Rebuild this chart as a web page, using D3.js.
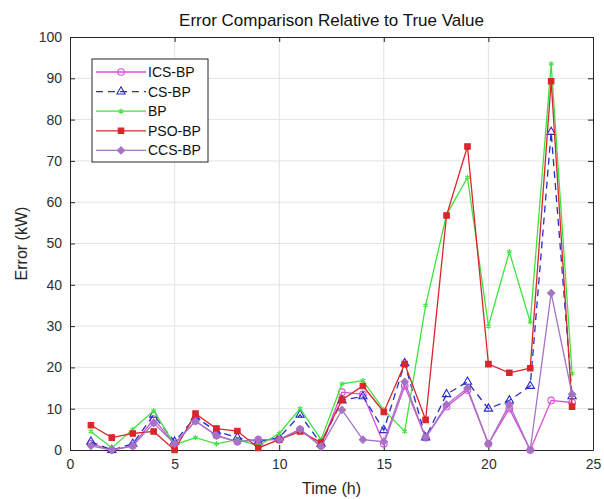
<!DOCTYPE html>
<html>
<head>
<meta charset="utf-8">
<script src="https://cdn.jsdelivr.net/npm/d3@7"></script>
<style>
  body { margin: 0; background: #fff; }
  svg { font-family: "Liberation Sans", Arial, sans-serif; }
  .grid line { stroke: #e3e3e3; stroke-width: 1; }
  .tick text { fill: #303030; font-size: 14px; }
</style>
</head>
<body>
<svg id="chart"></svg>
<script>
// ---------------------------
// Error comparison line chart
// ---------------------------
(function(){

const hours = d3.range(1, 25);

const icsBP = [1.5, 0, 1, 7.5, 1.5, 7, 3.5, 2, 2.5, 2.5, 5, 1, 14, 13.5, 1.5, 15.5, 3, 10.5, 14.5, 1.5, 10, 0, 12, 11.5];
const csBP  = [2, 0, 1.5, 8.5, 2, 8, 4.5, 3, 2, 3, 8.5, 1.5, 12, 13, 4.8, 21, 3, 13.5, 16.5, 10, 12, 15.5, 77, 13];
const bp    = [4.5, 0.5, 5, 9.5, 1.3, 3, 1.5, 2.5, 1, 4, 10, 2.5, 16, 16.8, 9.7, 4.5, 35, 57, 66, 30, 48, 31, 93.5, 18.5];
const psoBP = [6, 3, 4, 4.5, 0, 8.8, 5.2, 4.6, 0.5, 2.5, 4.5, 1.8, 12.2, 15.5, 9.2, 20.8, 7.3, 56.8, 73.5, 20.8, 18.7, 19.8, 89.3, 10.5];
const ccsBP = [1, 0, 1, 6.5, 1.5, 7, 3.5, 2, 2.5, 2.5, 5, 0.8, 9.7, 2.5, 2, 16.5, 3, 11, 15, 1.5, 11, 0, 38, 13.5];

const xTicks = [0, 5, 10, 15, 20, 25];
const yTicks = d3.range(0, 101, 10);

const series = [
  { name: "ICS-BP", values: icsBP, color: "#d94fd9", marker: "circle",   dash: null },
  { name: "CS-BP",  values: csBP,  color: "#2b2bc8", marker: "triangle", dash: "7,5" },
  { name: "BP",     values: bp,    color: "#3fe33f", marker: "star",     dash: null },
  { name: "PSO-BP", values: psoBP, color: "#d8262b", marker: "square",   dash: null },
  { name: "CCS-BP", values: ccsBP, color: "#a673c4", marker: "diamond",  dash: null }
];

const width = 604, height = 499;
const margin = { top: 37, right: 11, bottom: 49, left: 70 };

const svg = d3.select("#chart").attr("width", width).attr("height", height);

const x = d3.scaleLinear().domain([0, 25]).range([margin.left, width - margin.right]);
const y = d3.scaleLinear().domain([0, 100]).range([height - margin.bottom, margin.top]);

// grid
svg.append("g").attr("class", "grid")
  .selectAll("line.v").data(xTicks.slice(1, -1)).enter().append("line")
  .attr("x1", d => x(d)).attr("x2", d => x(d))
  .attr("y1", margin.top).attr("y2", height - margin.bottom);
svg.append("g").attr("class", "grid")
  .selectAll("line.h").data(yTicks.slice(1, -1)).enter().append("line")
  .attr("x1", margin.left).attr("x2", width - margin.right)
  .attr("y1", d => y(d)).attr("y2", d => y(d));

// axes (inward ticks, box on all sides like matlab)
const axisStyle = g => {
  g.select(".domain").attr("stroke", "#262626");
  g.selectAll(".tick line").attr("stroke", "#262626");
};
svg.append("g").attr("transform", `translate(0,${height - margin.bottom})`)
  .call(d3.axisBottom(x).tickValues(xTicks).tickSize(-5).tickPadding(9).tickSizeOuter(0))
  .call(axisStyle);
svg.append("g").attr("transform", `translate(0,${margin.top})`)
  .call(d3.axisTop(x).tickValues(xTicks).tickSize(-5).tickFormat("").tickSizeOuter(0))
  .call(axisStyle);
svg.append("g").attr("transform", `translate(${margin.left},0)`)
  .call(d3.axisLeft(y).tickValues(yTicks).tickSize(-5).tickPadding(8).tickSizeOuter(0))
  .call(axisStyle);
svg.append("g").attr("transform", `translate(${width - margin.right},0)`)
  .call(d3.axisRight(y).tickValues(yTicks).tickSize(-5).tickFormat("").tickSizeOuter(0))
  .call(axisStyle);

svg.selectAll(".tick text").attr("font-family", "Liberation Sans, Arial, sans-serif");

// markers (diamond = square turned 45deg, closer to matlab's 'd')
const symbolFor = {
  circle: d3.symbolCircle,
  triangle: d3.symbolTriangle,
  star: d3.symbolAsterisk,
  square: d3.symbolSquare,
  diamond: d3.symbolSquare
};
function drawMarker(sel, s) {
  const size = { circle: 34, triangle: 30, star: 20, square: 30, diamond: 26 }[s.marker];
  const filled = s.marker === "square" || s.marker === "diamond";
  sel.attr("d", d3.symbol().type(symbolFor[s.marker]).size(size))
    .attr("fill", filled ? s.color : "none")
    .attr("stroke", s.color)
    .attr("stroke-width", 1.1);
}
const rot = s => s.marker === "diamond" ? " rotate(45)" : "";

const line = d3.line().x((d, i) => x(hours[i])).y(d => y(d));

series.forEach(s => {
  const g = svg.append("g");
  g.append("path")
    .datum(s.values)
    .attr("fill", "none")
    .attr("stroke", s.color)
    .attr("stroke-width", 1.3)
    .attr("stroke-dasharray", s.dash)
    .attr("d", line);
  g.selectAll("path.m").data(s.values).enter().append("path")
    .attr("class", "m")
    .attr("transform", (d, i) => `translate(${x(hours[i])},${y(d)})${rot(s)}`)
    .call(sel => drawMarker(sel, s));
});

// title + labels
svg.append("text").attr("x", x(12.5)).attr("y", 26)
  .attr("text-anchor", "middle").attr("font-size", 17).attr("fill", "#111")
  .text("Error Comparison Relative to True Value");
svg.append("text").attr("x", x(12.5)).attr("y", 494)
  .attr("text-anchor", "middle").attr("font-size", 16).attr("fill", "#262626")
  .text("Time (h)");
svg.append("text").attr("transform", `translate(27,${y(50)}) rotate(-90)`)
  .attr("text-anchor", "middle").attr("font-size", 16).attr("fill", "#262626")
  .text("Error (kW)");

// legend
const legend = svg.append("g").attr("transform", "translate(92,59)");
legend.append("rect").attr("width", 116).attr("height", 103)
  .attr("fill", "#fff").attr("stroke", "#262626").attr("stroke-width", 1);
series.forEach((s, i) => {
  const ly = 13 + i * 19.6;
  legend.append("line").attr("x1", 4).attr("x2", 54).attr("y1", ly).attr("y2", ly)
    .attr("stroke", s.color).attr("stroke-width", 1.3).attr("stroke-dasharray", s.dash);
  legend.append("path")
    .attr("transform", `translate(29,${ly})${rot(s)}`)
    .call(sel => drawMarker(sel, s));
  legend.append("text").attr("x", 56).attr("y", ly + 5)
    .attr("font-size", 14).attr("fill", "#111").text(s.name);
});

})();
</script>
</body>
</html>
